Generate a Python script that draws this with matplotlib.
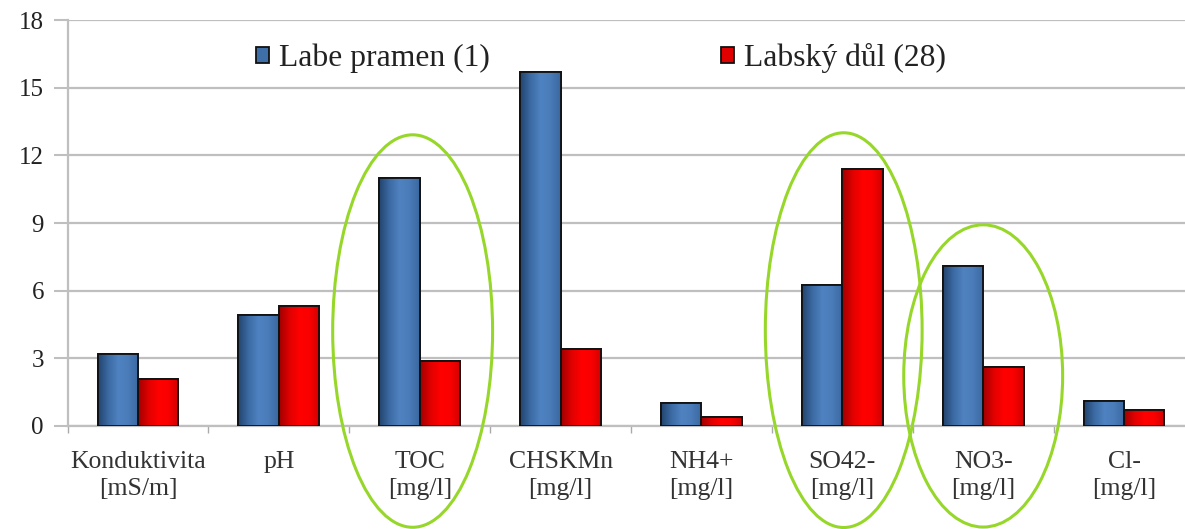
import numpy as np
import matplotlib
matplotlib.use("Agg")
import matplotlib.pyplot as plt
from matplotlib.colors import LinearSegmentedColormap
from matplotlib.patches import Ellipse

categories = ["Konduktivita\n[mS/m]", "pH", "TOC\n[mg/l]", "CHSKMn\n[mg/l]",
              "NH4+\n[mg/l]", "SO42-\n[mg/l]", "NO3-\n[mg/l]", "Cl-\n[mg/l]"]
labe_pramen = [3.2, 4.9, 11.0, 15.7, 1.0, 6.25, 7.1, 1.1]
labsky_dul = [2.1, 5.3, 2.9, 3.4, 0.4, 11.4, 2.6, 0.7]
series_names = ["Labe pramen (1)", "Labský důl (28)"]
yticks = [0, 3, 6, 9, 12, 15, 18]
# highlighted categories: (index, x-offset, width, y-center, height)
highlights = [(2, -0.05, 1.135, 4.21, 17.4),
              (5, 0.01, 1.113, 4.25, 17.5),
              (6, 0.0, 1.128, 2.22, 13.4)]

plt.rcParams['font.family'] = ['Liberation Serif', 'DejaVu Serif']

W, H = 1185, 529
fig = plt.figure(figsize=(W / 100, H / 100), dpi=100)
ax = fig.add_axes([67.5 / W, 103 / H, 1127 / W, 406 / H])

x = np.arange(len(categories))
bw = 0.287
blue_cmap = LinearSegmentedColormap.from_list(
    "b", ["#23456e", "#3b6aa3", "#4f82c0", "#4a7cb9", "#3a679f"])
red_cmap = LinearSegmentedColormap.from_list(
    "r", ["#a00000", "#e00000", "#ff0000", "#fa0000", "#d00000"])

grad = np.linspace(0, 1, 64).reshape(1, -1)
for vals, off, cmap, base, name in [(labe_pramen, -bw / 2, blue_cmap, "#3f6fa9", series_names[0]),
                                     (labsky_dul, bw / 2, red_cmap, "#e00000", series_names[1])]:
    bars = ax.bar(x + off, vals, width=bw, color=base, edgecolor="#111111",
                  linewidth=1.3, zorder=3, label=name)
    for b in bars:
        x0, y0 = b.get_x(), b.get_y()
        im = ax.imshow(grad, extent=[x0, x0 + b.get_width(), y0, y0 + b.get_height()],
                       aspect="auto", cmap=cmap, zorder=3.5, interpolation="bilinear")
        im.set_clip_path(b)
        ax.add_patch(plt.Rectangle((x0, y0), b.get_width(), b.get_height(), fill=False,
                                   edgecolor="#111111", linewidth=1.3, zorder=4))

ax.set_xlim(-0.5, len(categories) - 0.5)
ax.set_ylim(0, 18)
ax.set_yticks(yticks)
ax.set_yticklabels([str(t) for t in yticks], fontsize=18, color="#222222")
ax.set_xticks(x)
ax.set_xticklabels(categories, fontsize=18.5, color="#333333", linespacing=1.3,
                   verticalalignment="top")
ax.set_xticks(np.arange(len(categories) + 1) - 0.5, minor=True)
ax.tick_params(axis="x", which="major", length=0, pad=18)
ax.tick_params(axis="x", which="minor", length=5, color="#aaaaaa", width=1)
ax.tick_params(axis="y", length=10, width=1.5, color="#bfbfbf", pad=7)

ax.yaxis.grid(True, color="#bfbfbf", linewidth=1.6, zorder=0)
ax.set_axisbelow(True)
for s in ["top", "right"]:
    ax.spines[s].set_visible(False)
for s in ["left", "bottom"]:
    ax.spines[s].set_color("#bfbfbf")
    ax.spines[s].set_linewidth(1.6)

for idx, dx, w, yc, h in highlights:
    e = Ellipse((idx + dx, yc), w, h, fill=False, edgecolor="#96d72a",
                linewidth=2.2, clip_on=False, zorder=6)
    ax.add_patch(e)

leg = fig.legend(loc="center", bbox_to_anchor=(601 / W, 1 - 58 / H), ncol=2,
                 frameon=False, fontsize=22.8, handlelength=0.42, handleheight=0.42,
                 handletextpad=0.3, columnspacing=7.3)
for t in leg.get_texts():
    t.set_color("#222222")

fig.savefig("out.png", dpi=100)
